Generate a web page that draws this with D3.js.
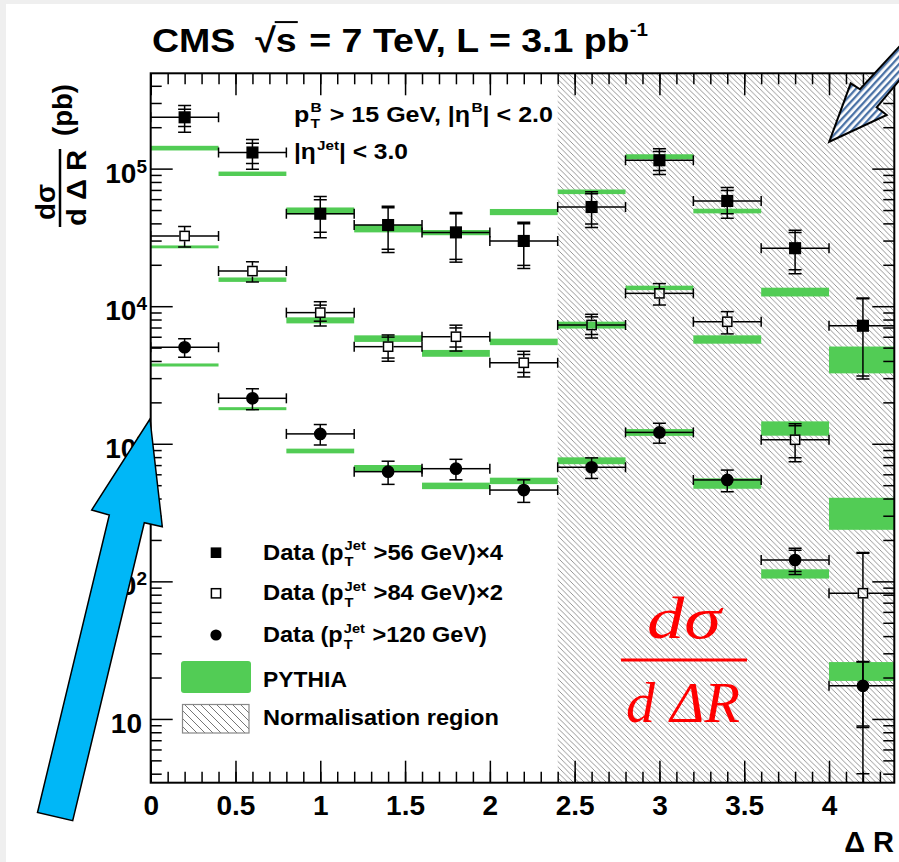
<!DOCTYPE html>
<html>
<head>
<meta charset="utf-8">
<script src="https://cdn.jsdelivr.net/npm/d3@7"></script>
<style>
  html, body { margin: 0; padding: 0; background: #fff; }
  svg { display: block; }
  text { white-space: pre; }
</style>
</head>
<body>
<svg id="chart" width="899" height="862"></svg>
<script>
// ---- ΔR binning -----------------------------------------------------------
const binEdges = [0, 0.4, 0.8, 1.2, 1.6, 2.0, 2.4, 2.8, 3.2, 3.6, 4.0, 4.4];
const normStart = 2.4;               // start of the normalisation region

// ---- Data, pT(jet) > 56 GeV (×4) -------------------------------------------
const data56     = [2.36e5, 1.31e5, 4.70e4, 3.89e4, 3.44e4, 2.98e4, 5.26e4, 1.15e5, 5.82e4, 2.64e4, 7.21e3];
const data56Stat = [3.4e4, 2.2e4, 1.25e4, 1.3e4, 1.25e4, 1.0e4, 1.3e4, 1.8e4, 1.12e4, 8.0e3, 4.1e3];
const data56Tot  = [5.2e4, 3.2e4, 1.56e4, 1.43e4, 1.35e4, 1.1e4, 1.52e4, 2.45e4, 1.47e4, 9.2e3, 4.25e3];
const pythia56    = [1.41e5, 9.18e4, 4.94e4, 3.67e4, 3.43e4, 4.84e4, 6.79e4, 1.22e5, 4.92e4, 1.27e4, 4.17e3];
const pythia56Err = [5.5e3, 3.4e3, 2.8e3, 2.3e3, 1.5e3, 2.5e3, 2.6e3, 5.2e3, 1.9e3, 930, 920];

// ---- Data, pT(jet) > 84 GeV (×2) -------------------------------------------
const data84     = [3.24e4, 1.80e4, 8.98e3, 5.08e3, 6.00e3, 3.88e3, 7.30e3, 1.24e4, 7.71e3, 1.07e3, 82];
const data84Stat = [1.5e3, 1.0e3, 1.2e3, 880, 950, 580, 1.07e3, 1.0e3, 600, 280, 78];
const data84Tot  = [5.5e3, 3.0e3, 1.8e3, 1.1e3, 1.28e3, 820, 1.43e3, 2.2e3, 1.42e3, 330, 80];
const pythia84    = [2.70e4, 1.56e4, 7.90e3, 5.82e3, 4.55e3, 5.51e3, 7.30e3, 1.36e4, 5.74e3, 1.30e3, 321];
const pythia84Err = [650, 580, 400, 320, 260, 300, 420, 500, 400, 155, 84];

// ---- Data, pT(jet) > 120 GeV -----------------------------------------------
const data120     = [5.03e3, 2.14e3, 1.18e3, 627, 659, 461, 675, 1.21e3, 546, 143, 17.4];
const data120Stat = [300, 150, 80, 50, 55, 40, 55, 90, 45, 25, 8.5];
const data120Tot  = [780, 370, 200, 120, 112, 86, 115, 200, 98, 31, 8.75];
const pythia120    = [3.74e3, 1.80e3, 887, 663, 495, 538, 754, 1.21e3, 516, 113.6, 22.4];
const pythia120Err = [95, 45, 35, 38, 27, 29, 43, 69, 45, 8.8, 3.5];

// ---- Axis ticks and labels -------------------------------------------------
const xTickVals   = [0, 0.5, 1, 1.5, 2, 2.5, 3, 3.5, 4];
const xTickLabels = ["0", "0.5", "1", "1.5", "2", "2.5", "3", "3.5", "4"];
const yTickVals   = [10, 100, 1000, 10000, 100000];
const yTickBase   = ["10", "10", "10", "10", "10"];
const yTickExp    = ["", "2", "3", "4", "5"];
const xDomain = [0, 4.385];
const yDomain = [3.44, 4.93e5];

// ---- Legend entries --------------------------------------------------------
const legendThresholds = ["56", "84", "120"];
const legendScales     = ["\u00d74", "\u00d72", ""];

// ---------------------------------------------------------------------------
const GREEN = "#52cc55";
const SANS = "'Liberation Sans', Arial, Helvetica, sans-serif";
const svg = d3.select("#chart");
const frame = { left: 150.7, right: 894.3, top: 73.3, bottom: 782.7 };

const x = d3.scaleLinear().domain(xDomain).range([frame.left, frame.right]);
const y = d3.scaleLog().domain(yDomain).range([frame.bottom, frame.top]);

const defs = svg.append("defs");
defs.append("clipPath").attr("id", "plotClip")
  .append("rect").attr("x", frame.left).attr("y", frame.top)
  .attr("width", frame.right - frame.left).attr("height", frame.bottom - frame.top);

function hatchPattern(id, step, color, width) {
  const p = defs.append("pattern").attr("id", id).attr("patternUnits", "userSpaceOnUse")
    .attr("width", step).attr("height", step);
  p.append("path")
    .attr("d", `M0,0 L${step},${step} M${-step / 2},${step / 2} L${step / 2},${step * 1.5} M${step / 2},${-step / 2} L${step * 1.5},${step / 2}`)
    .attr("stroke", color).attr("stroke-width", width).attr("fill", "none");
}
hatchPattern("hatch", 5.5, "#8a8a8a", 0.9);
hatchPattern("hatchLegend", 8, "#666", 0.9);

const stripe = defs.append("pattern").attr("id", "stripes").attr("patternUnits", "userSpaceOnUse")
  .attr("width", 10).attr("height", 5).attr("patternTransform", "rotate(-47.5)");
stripe.append("rect").attr("width", 10).attr("height", 5).attr("fill", "#ffffff");
stripe.append("rect").attr("width", 10).attr("height", 2.3).attr("fill", "#4a72a6");

// page background with thin grey margin
svg.append("rect").attr("width", 899).attr("height", 862).attr("fill", "#ffffff");
svg.append("rect").attr("x", 0).attr("y", 0).attr("width", 6).attr("height", 862).attr("fill", "#efefef");
svg.append("rect").attr("x", 0).attr("y", 0).attr("width", 899).attr("height", 4).attr("fill", "#efefef");

// ---- rich text helper (sub/superscripts, width fitting) ---------------------
function richText(parent, segs, opt) {
  const g = parent.append("g")
    .attr("font-family", opt.family || SANS)
    .attr("font-weight", opt.weight || "bold")
    .attr("fill", opt.fill || "#000");
  const inner = g.append("g");
  const S = opt.size;
  let cx = 0;
  const marks = {};
  segs.forEach(s => {
    if (s.t !== undefined) {
      const el = inner.append("text").attr("x", cx).attr("y", 0).attr("font-size", S).text(s.t);
      const w = el.node().getComputedTextLength();
      if (s.key) marks[s.key] = [cx, cx + w];
      cx += w + (s.after || 0);
    } else {
      const ss = S * (s.scale || 0.62);
      let w = 0;
      const x0 = cx + (s.dx || 0);
      if (s.sup !== undefined) {
        const el = inner.append("text").attr("x", x0).attr("y", -S * (s.supY || 0.42))
          .attr("font-size", ss).text(s.sup);
        w = Math.max(w, el.node().getComputedTextLength());
      }
      if (s.sub !== undefined) {
        const el = inner.append("text").attr("x", x0).attr("y", S * 0.3)
          .attr("font-size", ss).text(s.sub);
        w = Math.max(w, el.node().getComputedTextLength());
      }
      cx = x0 + w + (s.after || 0);
    }
  });
  const sx = opt.width ? opt.width / cx : 1;
  g.attr("transform", `translate(${opt.x},${opt.y}) scale(${sx},1)`);
  return { g, inner, width: cx, marks, size: S };
}

// ---- normalisation region (hatched) ----------------------------------------
svg.append("rect")
  .attr("x", x(normStart)).attr("y", frame.top)
  .attr("width", frame.right - x(normStart)).attr("height", frame.bottom - frame.top)
  .attr("fill", "url(#hatch)");

// ---- plot contents ---------------------------------------------------------
const plot = svg.append("g").attr("clip-path", "url(#plotClip)");

const series = [
  { val: data56,  stat: data56Stat,  tot: data56Tot,  mc: pythia56,  mcErr: pythia56Err,  marker: "square" },
  { val: data84,  stat: data84Stat,  tot: data84Tot,  mc: pythia84,  mcErr: pythia84Err,  marker: "open" },
  { val: data120, stat: data120Stat, tot: data120Tot, mc: pythia120, mcErr: pythia120Err, marker: "circle" }
];

// PYTHIA bands
series.forEach(s => {
  plot.append("g").selectAll("rect").data(s.mc).join("rect")
    .attr("x", (d, i) => x(binEdges[i]))
    .attr("width", (d, i) => x(binEdges[i + 1]) - x(binEdges[i]))
    .attr("y", (d, i) => y(d + s.mcErr[i]))
    .attr("height", (d, i) => y(d - s.mcErr[i]) - y(d + s.mcErr[i]))
    .attr("fill", GREEN);
});

function drawMarker(g, type, cx, cy) {
  if (type === "circle") {
    g.append("circle").attr("cx", cx).attr("cy", cy).attr("r", 5.6).attr("fill", "#000");
  } else if (type === "square") {
    g.append("rect").attr("x", cx - 5.3).attr("y", cy - 5.3).attr("width", 10.6).attr("height", 10.6).attr("fill", "#000");
  } else {
    g.append("rect").attr("x", cx - 4.6).attr("y", cy - 4.6).attr("width", 9.2).attr("height", 9.2)
      .attr("fill", "none").attr("stroke", "#000").attr("stroke-width", 1.5);
  }
}

series.forEach(s => {
  const g = plot.append("g").attr("stroke", "#000").attr("stroke-width", 1.5);
  const hs = s.marker === "circle" ? 5.6 : 5.3;
  const yOf = v => v > 0 ? Math.min(y(v), frame.bottom + 20) : frame.bottom + 20;
  const line = (x1, y1, x2, y2) => g.append("line").attr("x1", x1).attr("y1", y1).attr("x2", x2).attr("y2", y2);
  s.val.forEach((v, i) => {
    const cx = x((binEdges[i] + binEdges[i + 1]) / 2);
    const cy = y(v);
    const tHi = y(v + s.tot[i]), tLo = yOf(v - s.tot[i]);
    const sHi = y(v + s.stat[i]), sLo = yOf(v - s.stat[i]);
    if (cy - hs > tHi) line(cx, cy - hs, cx, tHi);
    if (tLo > cy + hs) line(cx, cy + hs, cx, tLo);
    [tHi, tLo, sHi, sLo].forEach(yy => {
      if (Math.abs(yy - cy) > hs + 0.5) line(cx - 6.5, yy, cx + 6.5, yy);
    });
    const xl = x(binEdges[i]), xr = x(binEdges[i + 1]);
    line(xl, cy, cx - hs, cy);
    line(cx + hs, cy, xr, cy);
    line(xl, cy - 5, xl, cy + 5);
    line(xr, cy - 5, xr, cy + 5);
    drawMarker(g, s.marker, cx, cy);
  });
});

// ---- axes (inward ticks on all four sides) ---------------------------------
const xMinor = d3.range(0, 4.39, 0.1).map(d => +d.toFixed(1));
const yMinor = [];
[1, 10, 100, 1000, 10000, 100000].forEach(dec => {
  for (let m = 2; m <= 9; m++) {
    const v = m * dec;
    if (v >= yDomain[0] && v <= yDomain[1]) yMinor.push(v);
  }
});

function styleAxis(g) {
  g.select(".domain").remove();
  g.selectAll(".tick line").attr("stroke", "#000").attr("stroke-width", 1.5);
}

svg.append("g").attr("transform", `translate(0,${frame.bottom})`)
  .call(d3.axisBottom(x).tickValues(xMinor).tickSize(-11).tickFormat("")).call(styleAxis);
svg.append("g").attr("transform", `translate(0,${frame.bottom})`)
  .call(d3.axisBottom(x).tickValues(xTickVals).tickSize(-22).tickPadding(12)
    .tickFormat((d, i) => xTickLabels[i]))
  .call(styleAxis)
  .call(g => g.selectAll("text").attr("font-family", SANS).attr("font-weight", "bold")
    .attr("font-size", 28).attr("fill", "#000"));
svg.append("g").attr("transform", `translate(0,${frame.top})`)
  .call(d3.axisTop(x).tickValues(xMinor).tickSize(-11).tickFormat("")).call(styleAxis);
svg.append("g").attr("transform", `translate(0,${frame.top})`)
  .call(d3.axisTop(x).tickValues(xTickVals).tickSize(-22).tickFormat("")).call(styleAxis);

svg.append("g").attr("transform", `translate(${frame.left},0)`)
  .call(d3.axisLeft(y).tickValues(yMinor).tickSize(-11).tickFormat("")).call(styleAxis);
svg.append("g").attr("transform", `translate(${frame.left},0)`)
  .call(d3.axisLeft(y).tickValues(yTickVals).tickSize(-22).tickFormat("")).call(styleAxis);
svg.append("g").attr("transform", `translate(${frame.right},0)`)
  .call(d3.axisRight(y).tickValues(yMinor).tickSize(-11).tickFormat("")).call(styleAxis);
svg.append("g").attr("transform", `translate(${frame.right},0)`)
  .call(d3.axisRight(y).tickValues(yTickVals).tickSize(-22).tickFormat("")).call(styleAxis);

// y tick labels with exponents
const yLab = svg.append("g").attr("font-family", SANS).attr("font-weight", "bold").attr("fill", "#000");
yTickVals.forEach((v, i) => {
  const t = yLab.append("text").attr("text-anchor", "end")
    .attr("x", yTickExp[i] ? 147 : 142).attr("y", y(v) + 14).attr("font-size", 28);
  t.append("tspan").text(yTickBase[i]);
  if (yTickExp[i]) t.append("tspan").attr("dy", -10).attr("font-size", 19).text(yTickExp[i]);
});

// frame
svg.append("rect").attr("x", frame.left).attr("y", frame.top)
  .attr("width", frame.right - frame.left).attr("height", frame.bottom - frame.top)
  .attr("fill", "none").attr("stroke", "#000").attr("stroke-width", 2);

// ---- axis titles -----------------------------------------------------------
svg.append("text").attr("x", 894).attr("y", 852).attr("text-anchor", "end")
  .attr("font-family", SANS).attr("font-weight", "bold").attr("font-size", 29).attr("fill", "#000")
  .text("\u0394 R");

const yt = svg.append("g").attr("transform", "rotate(-90)")
  .attr("font-family", SANS).attr("font-weight", "bold").attr("fill", "#000");
yt.append("text").attr("x", -110).attr("y", 72).attr("text-anchor", "middle").attr("font-size", 27)
  .attr("textLength", 52).attr("lengthAdjust", "spacingAndGlyphs").text("(pb)");
yt.append("text").attr("x", -202).attr("y", 55).attr("text-anchor", "middle").attr("font-size", 27)
  .attr("textLength", 36).attr("lengthAdjust", "spacingAndGlyphs").text("d\u03c3");
yt.append("line").attr("x1", -227).attr("x2", -149).attr("y1", 60).attr("y2", 60)
  .attr("stroke", "#000").attr("stroke-width", 2.5);
yt.append("text").attr("x", -188).attr("y", 86).attr("text-anchor", "middle").attr("font-size", 27)
  .attr("textLength", 76).attr("lengthAdjust", "spacingAndGlyphs").text("d \u0394 R");

// ---- title -----------------------------------------------------------------
const title = richText(svg, [
  { t: "CMS", after: 18 },
  { t: "\u221a", key: "root" },
  { t: "s", key: "s", after: 2 },
  { t: " = 7 TeV, L = 3.1 pb" },
  { sup: "-1", scale: 0.55, supY: 0.48 }
], { x: 152, y: 52, size: 34, weight: "bold", width: 496 });
title.inner.append("line")
  .attr("x1", title.marks.root[1] - 1).attr("x2", title.marks.s[1] + 1)
  .attr("y1", -title.size * 0.88).attr("y2", -title.size * 0.88)
  .attr("stroke", "#000").attr("stroke-width", 2);

// ---- selection text --------------------------------------------------------
richText(svg, [
  { t: "p" }, { sup: "B", sub: "T", dx: 1, after: 1 },
  { t: " > 15 GeV, |\u03b7" }, { sup: "B", dx: 1 }, { t: "| < 2.0" }
], { x: 294, y: 121.5, size: 22, width: 259 });
richText(svg, [
  { t: "|\u03b7" }, { sup: "Jet", dx: 1 }, { t: "| < 3.0" }
], { x: 294, y: 159, size: 22, width: 114 });

// ---- legend ----------------------------------------------------------------
const leg = svg.append("g");
const legRows = [552.7, 593.3, 635];
const legTypes = ["square", "open", "circle"];
const legWidths = [240, 240, 224];
legRows.forEach((ry, i) => {
  drawMarker(leg, legTypes[i], 216, ry);
  const segs = [
    { t: "Data (p" }, { sup: "Jet", sub: "T", dx: 1, after: 1 },
    { t: " >" + legendThresholds[i] + " GeV)" }
  ];
  if (legendScales[i]) segs.push({ t: legendScales[i] });
  richText(leg, segs, { x: 263, y: ry + 7, size: 22, width: legWidths[i] });
});
leg.append("rect").attr("x", 181).attr("y", 661).attr("width", 70).attr("height", 32)
  .attr("rx", 3).attr("fill", GREEN);
richText(leg, [{ t: "PYTHIA" }], { x: 263, y: 687, size: 22, width: 84 });
leg.append("rect").attr("x", 182.5).attr("y", 704.5).attr("width", 66.5).attr("height", 28.5)
  .attr("fill", "url(#hatchLegend)").attr("stroke", "#888").attr("stroke-width", 1.2);
richText(leg, [{ t: "Normalisation region" }], { x: 263, y: 724.5, size: 22, width: 236 });

// ---- red formula in the normalisation region -------------------------------
const red = svg.append("g").attr("font-family", "'Liberation Serif', 'Times New Roman', serif")
  .attr("font-style", "italic").attr("fill", "#ff0000").attr("text-anchor", "middle");
red.append("text").attr("x", 684).attr("y", 638).attr("font-size", 60)
  .attr("textLength", 74).attr("lengthAdjust", "spacingAndGlyphs").text("d\u03c3");
red.append("line").attr("x1", 621).attr("x2", 747).attr("y1", 660).attr("y2", 660)
  .attr("stroke", "#ff0000").attr("stroke-width", 3);
red.append("text").attr("x", 683).attr("y", 722).attr("font-size", 58)
  .attr("textLength", 114).attr("lengthAdjust", "spacing").text("d \u0394R");

// ---- annotation arrows -----------------------------------------------------
svg.append("polygon")
  .attr("points", [[150, 419], [162.3, 526.7], [144.3, 522.7], [72.7, 820.7], [37.5, 812.5], [109.3, 515], [91.7, 510]].join(" "))
  .attr("fill", "#00b7f7").attr("stroke", "#000").attr("stroke-width", 1.5).attr("stroke-linejoin", "miter");

svg.append("polygon")
  .attr("points", [[829.3, 141.7], [850.7, 83.3], [860, 89.3], [920, 24], [935, 38], [876.7, 107.3], [886.7, 115]].join(" "))
  .attr("fill", "url(#stripes)").attr("stroke", "#000").attr("stroke-width", 2);
</script>
</body>
</html>
